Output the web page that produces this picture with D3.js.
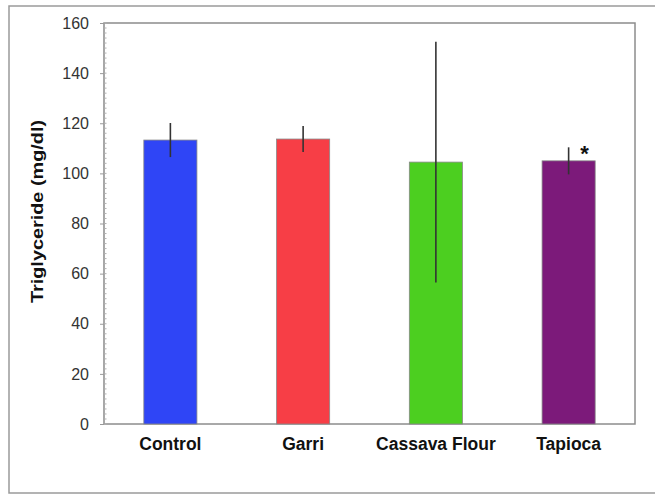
<!DOCTYPE html>
<html><head><meta charset="utf-8">
<script src="https://cdn.jsdelivr.net/npm/d3@7"></script>
<style>html,body{margin:0;padding:0;background:#fff;}svg{display:block;}</style>
</head><body>
<svg id="chart" width="655" height="495"></svg>
<script>
const categories = ["Control", "Garri", "Cassava Flour", "Tapioca"];
const values = [113.3, 113.7, 104.5, 105.0];
const errors = [6.8, 5.2, 48.0, 5.4];
const colors = ["#2f45f6", "#f73e46", "#4ccf20", "#7c1a7a"];
const significant = [false, false, false, true];
const yTicks = [0, 20, 40, 60, 80, 100, 120, 140, 160];
const yMinorTicks = d3.range(0, 161, 2);

const svg = d3.select("#chart");
const m = {left: 104, top: 23, right: 635, bottom: 424};
const FONT = "Liberation Sans, Arial, Helvetica, sans-serif";

// outer frame
svg.append("rect").attr("x", 9).attr("y", 6).attr("width", 660).attr("height", 487)
  .attr("fill", "none").attr("stroke", "#9a9a9a").attr("stroke-width", 1.5);

const x = d3.scaleBand().domain(categories).range([m.left, m.right]).paddingInner(0.6).paddingOuter(0.3);
const y = d3.scaleLinear().domain([0, 160]).range([m.bottom, m.top]);

// plot border
svg.append("rect").attr("x", m.left).attr("y", m.top).attr("width", m.right - m.left).attr("height", m.bottom - m.top)
  .attr("fill", "#fff").attr("stroke", "#8c8c8c").attr("stroke-width", 1.5);

// minor ticks (inside)
svg.append("g").selectAll("line").data(yMinorTicks).join("line")
  .attr("x1", m.left).attr("x2", m.left + 2.5)
  .attr("y1", d => y(d)).attr("y2", d => y(d))
  .attr("stroke", "#b0b0b0").attr("stroke-width", 1);

// y axis with major ticks outward
const yAxis = d3.axisLeft(y).tickValues(yTicks).tickSize(4).tickPadding(11).tickFormat(d3.format("d"));
const gy = svg.append("g").attr("transform", `translate(${m.left},0)`).call(yAxis);
gy.select(".domain").remove();
gy.selectAll(".tick line").attr("stroke", "#999");
gy.selectAll(".tick text").attr("font-family", FONT)
  .attr("font-size", 16).attr("fill", "#333");

// x axis labels
const xAxis = d3.axisBottom(x).tickSize(0).tickPadding(14);
const gx = svg.append("g").attr("transform", `translate(0,${m.bottom})`).call(xAxis);
gx.select(".domain").remove();
gx.selectAll(".tick text").attr("font-family", FONT)
  .attr("font-size", 17.5).attr("font-weight", "bold").attr("fill", "#111");

// bars
svg.append("g").selectAll("rect").data(categories).join("rect")
  .attr("x", d => x(d)).attr("width", x.bandwidth())
  .attr("y", (d, i) => y(values[i])).attr("height", (d, i) => y(0) - y(values[i]))
  .attr("fill", (d, i) => colors[i]).attr("stroke", "#888").attr("stroke-width", 0.8);

// error bars
svg.append("g").selectAll("line").data(categories).join("line")
  .attr("x1", d => x(d) + x.bandwidth() / 2).attr("x2", d => x(d) + x.bandwidth() / 2)
  .attr("y1", (d, i) => y(values[i] + errors[i])).attr("y2", (d, i) => y(values[i] - errors[i]))
  .attr("stroke", "#333").attr("stroke-width", 1.6);

// significance markers
svg.append("g").selectAll("text").data(categories.filter((d, i) => significant[i])).join("text")
  .attr("x", d => x(d) + x.bandwidth() / 2 + 16)
  .attr("y", d => y(values[categories.indexOf(d)] + errors[categories.indexOf(d)]) + 14)
  .attr("text-anchor", "middle").attr("font-family", FONT)
  .attr("font-size", 22).attr("font-weight", "bold").attr("fill", "#111").text("*");

// y label
svg.append("text").attr("transform", `translate(43,211.5) rotate(-90)`)
  .attr("text-anchor", "middle").attr("font-family", FONT)
  .attr("font-size", 17).attr("font-weight", "bold").attr("fill", "#111")
  .attr("textLength", 183).attr("lengthAdjust", "spacingAndGlyphs")
  .text("Triglyceride (mg/dl)");
</script>
</body></html>
